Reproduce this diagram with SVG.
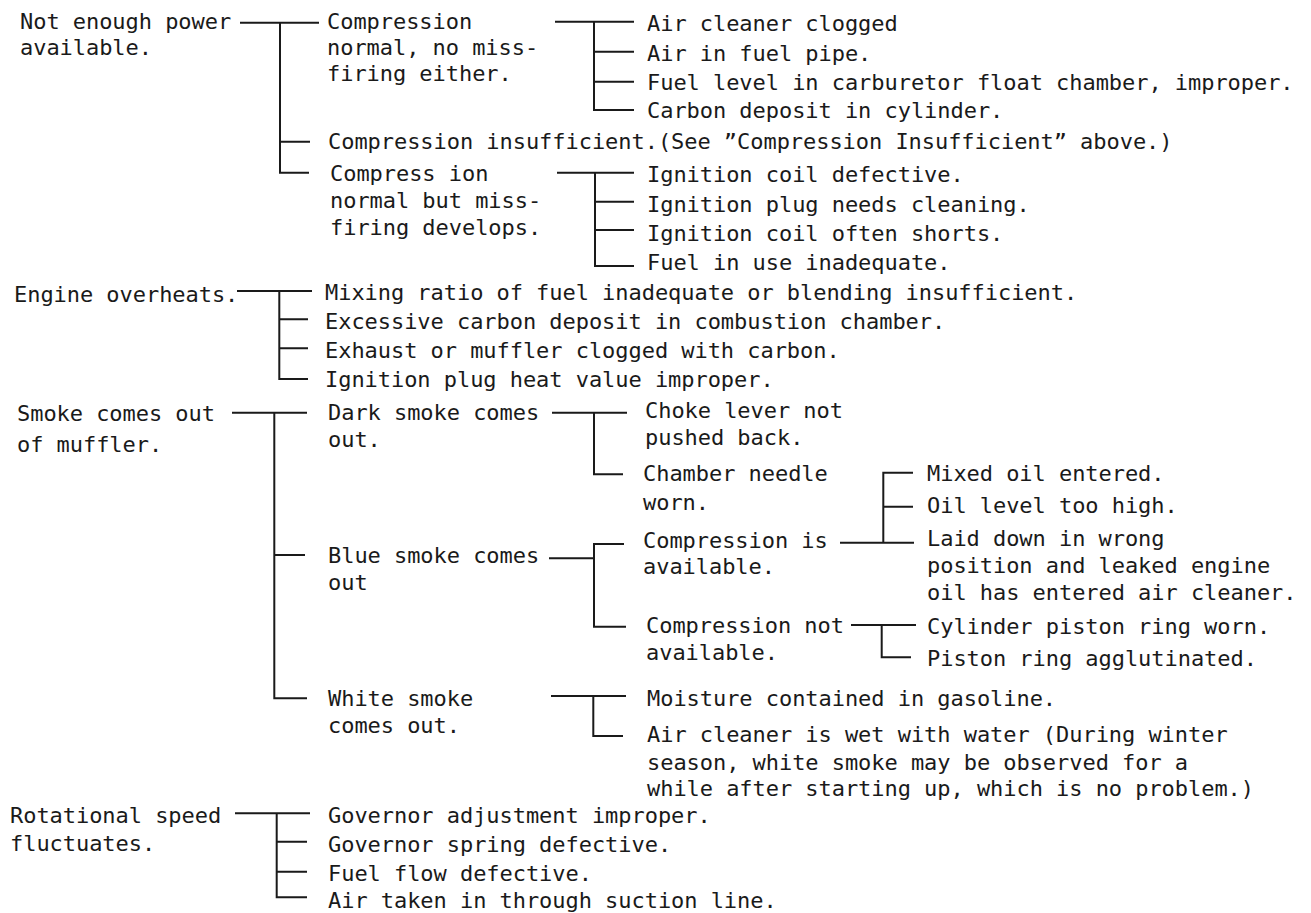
<svg xmlns="http://www.w3.org/2000/svg" width="1311" height="913" viewBox="0 0 1311 913">
<style>
text{font-family:"DejaVu Sans Mono","Liberation Mono",monospace;font-size:22px;fill:#1a1a1a;letter-spacing:-0.05px}
.c path{fill:none;stroke:#1a1a1a;stroke-width:2;stroke-linecap:square}
</style>
<rect width="1311" height="913" fill="#fff"/>
<g class="c" id="connectors">
<path d="M241 22.7H318M280 22.7V172.7M280 141.7H309M280 172.7H308"/>
<path d="M556 21.7H633M594 21.7V110M594 51.7H633M594 81.7H633M594 110H633"/>
<path d="M558 172.7H633M595 172.7V266M595 201.7H633M595 230H633M595 266H633"/>
<path d="M238 291H311M279.3 291V379M279.3 319.3H307M279.3 348.3H307M279.3 379H307"/>
<path d="M233 412.7H306M274.3 412.7V698.3M274.3 555H304M274.3 698.3H306"/>
<path d="M553 412.7H626M594 412.7V474.3M594 474.3H622"/>
<path d="M550 558.3H594M594 544V626.7M594 544H623M594 626.7H625"/>
<path d="M841 542.7H913M883.3 472.7V542.7M883.3 472.7H912M883.3 506.7H912"/>
<path d="M852 625H915M881.7 625V657.3M881.7 657.3H910"/>
<path d="M552 696H625M593.3 696V736M593.3 736H622"/>
<path d="M236 813.3H309M276.7 813.3V897.3M276.7 841.7H306M276.7 871.7H306M276.7 897.3H306"/>
</g>
<g id="n-power"><text x="20" y="29">Not enough power</text><text x="20" y="55">available.</text></g>
<g id="n-comp-normal"><text x="327" y="29">Compression</text><text x="327" y="55">normal, no miss-</text><text x="327" y="81">firing either.</text></g>
<g id="n-leaves1">
<text x="647" y="31">Air cleaner clogged</text>
<text x="647" y="61">Air in fuel pipe.</text>
<text x="647" y="90">Fuel level in carburetor float chamber, improper.</text>
<text x="647" y="118">Carbon deposit in cylinder.</text>
</g>
<g id="n-comp-insuff"><text x="328" y="149">Compression insufficient.(See ”Compression Insufficient” above.)</text></g>
<g id="n-comp-miss"><text x="330" y="181">Compress ion</text><text x="330" y="208">normal but miss-</text><text x="330" y="235">firing develops.</text></g>
<g id="n-leaves2">
<text x="647" y="182">Ignition coil defective.</text>
<text x="647" y="212">Ignition plug needs cleaning.</text>
<text x="647" y="241">Ignition coil often shorts.</text>
<text x="647" y="270">Fuel in use inadequate.</text>
</g>
<g id="n-overheat"><text x="14" y="302">Engine overheats.</text></g>
<g id="n-leaves3">
<text x="325" y="300">Mixing ratio of fuel inadequate or blending insufficient.</text>
<text x="325" y="329">Excessive carbon deposit in combustion chamber.</text>
<text x="325" y="358">Exhaust or muffler clogged with carbon.</text>
<text x="325" y="387">Ignition plug heat value improper.</text>
</g>
<g id="n-smoke"><text x="17" y="421">Smoke comes out</text><text x="17" y="452">of muffler.</text></g>
<g id="n-dark"><text x="328" y="420">Dark smoke comes</text><text x="328" y="447">out.</text></g>
<g id="n-choke"><text x="645" y="418">Choke lever not</text><text x="645" y="445">pushed back.</text></g>
<g id="n-needle"><text x="643" y="481">Chamber needle</text><text x="643" y="510">worn.</text></g>
<g id="n-blue"><text x="328" y="563">Blue smoke comes</text><text x="328" y="590">out</text></g>
<g id="n-comp-is"><text x="643" y="548">Compression is</text><text x="643" y="574">available.</text></g>
<g id="n-leaves4">
<text x="927" y="481">Mixed oil entered.</text>
<text x="927" y="513">Oil level too high.</text>
<text x="927" y="546">Laid down in wrong</text>
<text x="927" y="573">position and leaked engine</text>
<text x="927" y="600">oil has entered air cleaner.</text>
</g>
<g id="n-comp-not"><text x="646" y="633">Compression not</text><text x="646" y="660">available.</text></g>
<g id="n-leaves5">
<text x="927" y="634">Cylinder piston ring worn.</text>
<text x="927" y="666">Piston ring agglutinated.</text>
</g>
<g id="n-white"><text x="328" y="706">White smoke</text><text x="328" y="733">comes out.</text></g>
<g id="n-leaves6">
<text x="647" y="706">Moisture contained in gasoline.</text>
<text x="647" y="742">Air cleaner is wet with water (During winter</text>
<text x="647" y="770">season, white smoke may be observed for a</text>
<text x="647" y="796">while after starting up, which is no problem.)</text>
</g>
<g id="n-rot"><text x="10" y="823">Rotational speed</text><text x="10" y="851">fluctuates.</text></g>
<g id="n-leaves7">
<text x="328" y="823">Governor adjustment improper.</text>
<text x="328" y="852">Governor spring defective.</text>
<text x="328" y="881">Fuel flow defective.</text>
<text x="328" y="908">Air taken in through suction line.</text>
</g>
</svg>
